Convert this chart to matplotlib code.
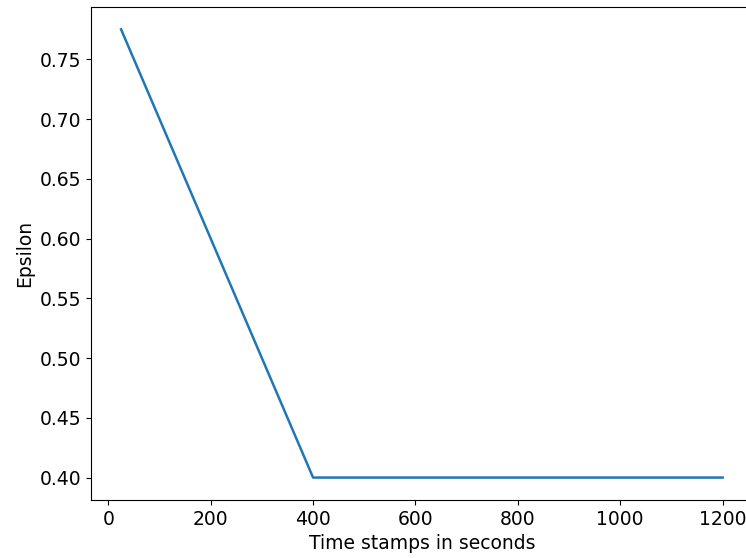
import matplotlib
matplotlib.use("Agg")
import matplotlib.pyplot as plt

time_stamps = [25, 400, 1200]
epsilon = [0.775, 0.40, 0.40]

fig = plt.figure(figsize=(7.46, 5.58), dpi=100)
ax = fig.add_subplot(111)
ax.plot(time_stamps, epsilon, color="#1f77b4", lw=1.8)
ax.set_xlabel("Time stamps in seconds", fontsize=13.5)
ax.set_ylabel("Epsilon", fontsize=13.5)
ax.tick_params(labelsize=13.5)
# the reference is cut just left of the right spine
fig.subplots_adjust(left=0.122, right=1.009, top=0.9875, bottom=0.104)
fig.savefig("out.png", dpi=100)
